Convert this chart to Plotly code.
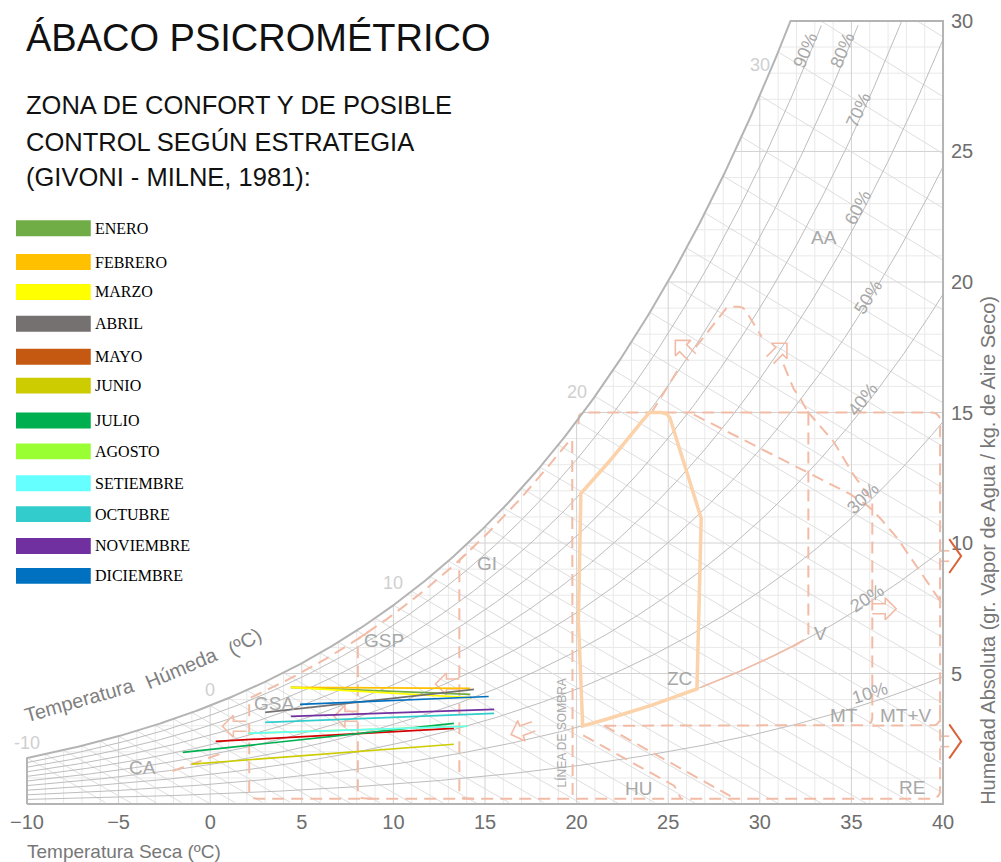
import numpy as np
import plotly.graph_objects as go

# ---------------- chart data ----------------
MONTHS = ["ENERO", "FEBRERO", "MARZO", "ABRIL", "MAYO", "JUNIO", "JULIO",
          "AGOSTO", "SETIEMBRE", "OCTUBRE", "NOVIEMBRE", "DICIEMBRE"]
LEGEND_COLORS = ["#70AD47", "#FFC000", "#FFFF00", "#767171", "#C65911", "#CCCC00",
                 "#00B050", "#99FF33", "#66FFFF", "#33CCCC", "#7030A0", "#0070C0"]
LINE_COLORS = ["#70AD47", "#FFC000", "#FFFF00", "#767171", "#D40000", "#CCCC00",
               "#00B050", "#99FF33", "#66FFFF", "#33CCCC", "#7030A0", "#0070C0"]
# monthly min / max temperature (ºC) and absolute humidity (g/kg) at each end
T_MIN = [4.4, 4.4, 4.4, 3.0, 0.3, -1.0, -1.5, 2.1, 2.1, 3.0, 4.4, 4.9]
W_AT_TMIN = [4.47, 4.47, 4.47, 3.51, 2.40, 1.53, 1.98, 2.71, 2.71, 3.13, 3.36, 3.82]
T_MAX = [14.2, 14.2, 14.2, 14.4, 13.3, 13.3, 13.3, 14.05, 14.05, 15.5, 15.5, 15.2]
W_AT_TMAX = [4.20, 4.43, 4.08, 4.39, 2.90, 2.29, 3.09, 2.98, 2.98, 3.47, 3.63, 4.12]

X_TICKS = [-10, -5, 0, 5, 10, 15, 20, 25, 30, 35, 40]
Y_TICKS = [5, 10, 15, 20, 25, 30]
RH_LEVELS = [10, 20, 30, 40, 50, 60, 70, 80, 90]
WB_LABELS = [-10, 0, 10, 20, 30]

ZONE_NAMES = ["CA", "GSA", "GSP", "GI", "ZC", "V", "MT", "MT+V", "HU", "RE", "AA"]
ZONE_LABEL_T = [-3.7, 3.5, 9.5, 15.1, 25.6, 33.3, 34.6, 38.0, 23.4, 38.3, 33.5]
ZONE_LABEL_W = [1.41, 3.85, 6.26, 9.20, 4.81, 6.53, 3.40, 3.40, 0.61, 0.65, 21.7]

# strategy-zone boundaries (ºC / g/kg)
GSA_T, GSP_T, GI_T, SOMBRA_T = 2.13, 8.06, 13.6, 19.76
ZC_LEFT_T, ZC_RIGHT_T, ZC_TOP_RIGHT_T, ZC_KINK_W = 20.1, 26.8, 25.0, 11.0
V_T, MT_T, RIGHT_T = 32.65, 36.14, 39.84
BASE_W, TOP_W, MT_W = 0.2, 15.0, 3.0
SAT_OFFSET = 0.35
CHEVRON_W = [9.5, 2.4]

# ---------------- geometry / psychrometrics ----------------
P_ATM = 101.325
SX, SY = 18.38, 26.2            # px per ºC, px per g/kg
X0, X1 = -10.49, 40.49
Y0, Y1 = -0.305, 30.305
ML, MR, MTOP, MB = 15, 49, 10, 50
FW, FH = 1001, 862


def psat(T):
    T = np.asarray(T, float)
    return 0.61094 * np.exp(17.625 * T / (T + 243.04))


def wsat(T):
    ps = psat(T)
    return 622.0 * ps / (P_ATM - ps)


def w_wetbulb(T, twb):
    Ws = wsat(twb) / 1000.0
    W = ((2501 - 2.326 * twb) * Ws - 1.006 * (T - twb)) / (2501 + 1.86 * T - 4.186 * twb)
    return W * 1000.0


TG = np.linspace(-10, 45, 5501)
WG = wsat(TG)


def tdew(w):
    return float(np.interp(w, WG, TG))


def px2paper(px, py):
    return (px - ML) / (FW - ML - MR), (FH - MB - py) / (FH - MB - MTOP)


def data2paper(T, w):
    return (T - X0) / (X1 - X0), (w - Y0) / (Y1 - Y0)


def fillet(T, W, r=7.0):
    P = np.column_stack([np.asarray(T, float) * SX, np.asarray(W, float) * SY])
    out = [P[0]]
    for i in range(1, len(P) - 1):
        a, b, c = P[i - 1], P[i], P[i + 1]
        v1, v2 = a - b, c - b
        l1, l2 = np.hypot(*v1), np.hypot(*v2)
        if l1 < 1e-9 or l2 < 1e-9:
            continue
        u1, u2 = v1 / l1, v2 / l2
        ang = np.arccos(np.clip(np.dot(u1, u2), -1, 1))
        if ang > np.radians(165) or ang < 1e-3:
            out.append(b)
            continue
        t = min(r / np.tan(ang / 2), 0.5 * l1, 0.5 * l2)
        rr = t * np.tan(ang / 2)
        p1, p2 = b + u1 * t, b + u2 * t
        bis = u1 + u2
        bis = bis / np.hypot(*bis)
        cen = b + bis * (rr / np.sin(ang / 2))
        a1 = np.arctan2(p1[1] - cen[1], p1[0] - cen[0])
        a2 = np.arctan2(p2[1] - cen[1], p2[0] - cen[0])
        da = (a2 - a1 + np.pi) % (2 * np.pi) - np.pi
        for s in np.linspace(0, 1, 9):
            out.append(cen + rr * np.array([np.cos(a1 + da * s), np.sin(a1 + da * s)]))
    out.append(P[-1])
    out = np.array(out)
    return list(out[:, 0] / SX), list(out[:, 1] / SY)


def block_arrow(T, w, ang_deg, L=24, hw=11, sw=5, hl=11):
    base = [(-L / 2, sw), (L / 2 - hl, sw), (L / 2 - hl, hw), (L / 2, 0),
            (L / 2 - hl, -hw), (L / 2 - hl, -sw), (-L / 2, -sw)]
    a = np.radians(ang_deg)
    xs, ys = [], []
    for u, v in base:
        px = u * np.cos(a) - v * np.sin(a)
        py = u * np.sin(a) + v * np.cos(a)
        xs.append(T + px / SX)
        ys.append(w + py / SY)
    return xs, ys


def add_path(store, T, W):
    store[0].extend(list(T) + [None])
    store[1].extend(list(W) + [None])


fig = go.Figure()


def line_trace(store, color, width, dash=None):
    fig.add_trace(go.Scatter(x=store[0], y=store[1], mode="lines",
                             line=dict(color=color, width=width, dash=dash),
                             hoverinfo="skip", showlegend=False))


# ---------------- grid (clipped under the saturation curve) ----------------
minor, major = ([], []), ([], [])
for k in range(-9, 40):
    top = min(float(wsat(k)), 30.0)
    add_path(major if k % 5 == 0 else minor, [k, k], [0, top])
for j in range(1, 30):
    add_path(major if j % 5 == 0 else minor, [max(-10.0, tdew(j)), 40], [j, j])
line_trace(minor, "#e9e9e9", 1)
line_trace(major, "#d2d2d2", 1)

# ---------------- wet-bulb lines ----------------
wb = ([], [])
for twb in range(-10, 35):
    T = np.linspace(twb, 40, 200)
    W = w_wetbulb(T, twb)
    m = (W >= 0) & (W <= 30)
    if m.sum() > 1:
        add_path(wb, T[m], W[m])
line_trace(wb, "#dadada", 0.9)

# ---------------- relative humidity curves ----------------
rhs = ([], [])
for rh in RH_LEVELS:
    T = np.linspace(-10, 40, 400)
    W = rh / 100 * wsat(T)
    m = W <= 30
    add_path(rhs, T[m], W[m])
line_trace(rhs, "#bdbdbd", 1)

# ---------------- strategy zones ----------------
dashed = ([], [])
solid = ([], [])


def sat_par(t0, t1, n=60):
    T = np.linspace(t0, t1, n)
    return list(T), list(wsat(T) - SAT_OFFSET)


# big outer path: top w=15, right edge, base line, GSA vertical, curve, sombra line
pt, pw = sat_par(GSA_T, SOMBRA_T)
T = [ZC_LEFT_T, ZC_LEFT_T, RIGHT_T, RIGHT_T, GSA_T] + pt + [SOMBRA_T, SOMBRA_T + 0.6]
W = [14.55, TOP_W, TOP_W, BASE_W, BASE_W] + pw + [BASE_W, BASE_W]
add_path(dashed, *fillet(T, W, 8))
for tv in (GSP_T, GI_T):
    pt, pw = sat_par(tv, tv + 0.8, 8)
    add_path(dashed, *fillet([tv + 0.8, tv] + pt, [BASE_W, BASE_W] + pw, 8))

# MT and MT+V
add_path(dashed, *fillet([21.5, MT_T, MT_T], [MT_W, MT_W, 11.6], 8))
add_path(dashed, *fillet([MT_T, RIGHT_T, RIGHT_T], [MT_W, MT_W, 3.8], 8))
# V zone right edge
add_path(dashed, *fillet([V_T - 0.8, V_T, V_T],
                         [0.2 * float(wsat(V_T - 0.8)), 0.2 * float(wsat(V_T)), 15.2], 8))
# long diagonal and steep line
add_path(dashed, [26.4, 34.94, 35.92, 36.57, 37.5, 39.84],
         [14.92, 11.87, 11.41, 10.95, 10.19, 7.79])
add_path(dashed, [32.6, 34.02, 35.1, 36.03], [15.04, 13.89, 12.63, 11.72])
# AA roof
add_path(dashed, [24.06, 25.5], [14.96, 16.6])
add_path(dashed, *fillet([26.5, 28.2, 29.1, 30.1], [17.5, 19.05, 19.05, 17.9], 8))
add_path(dashed, *fillet([31.3, 31.84, 32.22, 32.6], [16.83, 15.92, 15.53, 15.04], 8))
# HU
add_path(dashed, *fillet([20.36, 25.31, 25.7], [2.63, 0.73, BASE_W], 8))
add_path(dashed, [21.5, 28.4], [MT_W, BASE_W + 0.1])
# CA
add_path(dashed, [-2.06, 0.77], [1.26, 1.98])
line_trace(dashed, "#f2bba6", 2, "12px,7px")

# salmon 20% RH edge of the V zone
T = np.linspace(ZC_RIGHT_T, V_T - 0.5, 50)
add_path(solid, T, 0.2 * wsat(T))
for (ta, wa, an) in [(1.32, 2.98, 180), (7.41, 3.36, 180), (12.95, 4.6, 180),
                     (17.04, 2.82, 200), (36.79, 7.48, 0), (25.85, 17.44, 135),
                     (31.02, 17.33, 45)]:
    add_path(solid, *block_arrow(ta, wa, an))
for cw in CHEVRON_W:
    add_path(solid, [RIGHT_T, RIGHT_T + 0.5], [cw + 0.2, cw + 0.2])
    add_path(solid, [RIGHT_T, RIGHT_T + 0.5], [cw - 0.2, cw - 0.2])
line_trace(solid, "#f2bba6", 1.6)

# comfort zone ZC
T80 = tdew(TOP_W / 0.8)
t1 = np.linspace(ZC_LEFT_T, T80, 30)
t2 = np.linspace(ZC_RIGHT_T, ZC_LEFT_T, 30)
T = [ZC_LEFT_T, ZC_LEFT_T] + list(t1) + [ZC_TOP_RIGHT_T, ZC_RIGHT_T, ZC_RIGHT_T] + list(t2) + [ZC_LEFT_T, ZC_LEFT_T]
W = [7.0, 0.8 * float(wsat(ZC_LEFT_T))] + list(0.8 * wsat(t1)) + [TOP_W, ZC_KINK_W, float(0.2 * wsat(ZC_RIGHT_T))] + \
    list(0.2 * wsat(t2)) + [float(0.2 * wsat(ZC_LEFT_T)), 7.0]
zc = ([], [])
add_path(zc, *fillet(T, W, 9))
line_trace(zc, "#fbd2a9", 3.5)

# ---------------- frame + saturation curve ----------------
tsat30 = tdew(30)
ts = np.linspace(-10, tsat30, 300)
frame = ([-10] + list(ts) + [40, 40, -10], [0] + list(wsat(ts)) + [30, 0, 0])
line_trace(frame, "#b4b4b4", 2)

# ---------------- monthly lines ----------------
for i, name in enumerate(MONTHS):
    fig.add_trace(go.Scatter(x=[T_MIN[i], T_MAX[i]], y=[W_AT_TMIN[i], W_AT_TMAX[i]],
                             mode="lines", name=name,
                             line=dict(color=LINE_COLORS[i], width=1.7),
                             showlegend=False, hovertemplate=name + "<extra></extra>"))

# ---------------- annotations ----------------
ann = []
shapes = []
SANS = "Liberation Sans"


def pa(px, py, text, size, color, xanchor="left", angle=0, family=SANS):
    x, y = px2paper(px, py)
    ann.append(dict(x=x, y=y, xref="paper", yref="paper", text=text, showarrow=False,
                    xanchor=xanchor, yanchor="middle", textangle=angle,
                    font=dict(family=family, size=size, color=color)))


def da(T, w, text, size, color, angle=0):
    ann.append(dict(x=T, y=w, xref="x", yref="y", text=text, showarrow=False,
                    xanchor="center", yanchor="middle", textangle=angle,
                    font=dict(family=SANS, size=size, color=color)))


pa(21, 35, "ÁBACO PSICROMÉTRICO", 38, "#111111")
pa(21, 102, "ZONA DE CONFORT Y DE POSIBLE", 25.5, "#111111")
pa(21, 139, "CONTROL SEGÚN ESTRATEGIA", 25.5, "#111111")
pa(21, 175, "(GIVONI - MILNE, 1981):", 25.5, "#111111")

# legend
LEG_Y = [226, 260, 290, 322, 355, 384, 419, 450, 482, 513, 545, 575]
for i, name in enumerate(MONTHS):
    x0, y0 = px2paper(13, LEG_Y[i] + 8)
    x1, y1 = px2paper(88, LEG_Y[i] - 8)
    shapes.append(dict(type="rect", xref="paper", yref="paper", x0=x0, x1=x1, y0=y0, y1=y1,
                       fillcolor=LEGEND_COLORS[i], line=dict(width=0)))
    pa(90, LEG_Y[i], name, 16, "#000000", family="Liberation Serif")

# axis titles
pa(22, 852, "Temperatura Seca (ºC)", 19, "#777777")
pa(988, 549, "Humedad Absoluta (gr. Vapor de Agua / kg. de Aire Seco)", 20, "#777777",
   xanchor="center", angle=-90)
pa(77, 700, "Temperatura", 20, "#808080", xanchor="center", angle=-16)
pa(179, 667, "Húmeda", 20, "#808080", xanchor="center", angle=-23)
pa(242, 641, "(ºC)", 20, "#808080", xanchor="center", angle=-31)

# zone labels
for n, t, w in zip(ZONE_NAMES, ZONE_LABEL_T, ZONE_LABEL_W):
    da(t, w, n, 19, "#a8a8a8")
da(19.16, 2.71, "LÍNEA DE SOMBRA", 12, "#a8a8a8", angle=-90)

# wet-bulb labels
for v, ys in zip(WB_LABELS, [3, 4, 10, 17, 19]):
    ann.append(dict(x=v, y=float(wsat(v)), xref="x", yref="y", text=str(v), showarrow=False,
                    xanchor="center", yanchor="bottom", yshift=ys,
                    font=dict(family=SANS, size=18, color="#cfcfcf")))

# RH labels (placed just above their curve, rotated along it)
RH_LABEL_T = [36.03, 35.87, 35.65, 35.65, 35.92, 35.38, 35.38, 34.51, 32.49]
RH_LABEL_W = [4.24, 7.90, 11.72, 15.50, 19.43, 22.86, 26.60, 28.89, 28.89]
for rh, t, w in zip(RH_LEVELS, RH_LABEL_T, RH_LABEL_W):
    tc = min(t, tdew(w / (rh / 100)))
    slope = rh / 100 * float(wsat(tc + 0.05) - wsat(tc - 0.05)) / 0.1
    angle = -np.degrees(np.arctan(slope * SY / SX))
    ann.append(dict(x=t, y=w, xref="x", yref="y", text=f"{rh}%", showarrow=False,
                    xanchor="center", yanchor="middle", textangle=angle,
                    font=dict(family=SANS, size=18, color="#a8a8a8")))

# right-edge chevrons
for cy in CHEVRON_W:
    xa, ya = data2paper(RIGHT_T + 0.5, cy + 0.65)
    xb, yb = data2paper(RIGHT_T + 1.15, cy)
    xc, yc = data2paper(RIGHT_T + 0.5, cy - 0.65)
    shapes.append(dict(type="path", xref="paper", yref="paper",
                       path=f"M {xa} {ya} L {xb} {yb} L {xc} {yc}",
                       line=dict(color="#d9623b", width=2)))

fig.update_layout(
    width=FW, height=FH,
    margin=dict(l=ML, r=MR, t=MTOP, b=MB, pad=0),
    paper_bgcolor="white", plot_bgcolor="white",
    showlegend=False,
    xaxis=dict(range=[X0, X1], showgrid=False, zeroline=False, showline=False,
               tickmode="array", tickvals=X_TICKS, ticks="",
               tickfont=dict(family=SANS, size=20, color="#6e6e6e"),
               ticklabelstandoff=-4, fixedrange=True),
    yaxis=dict(range=[Y0, Y1], side="right", showgrid=False, zeroline=False, showline=False,
               tickmode="array", tickvals=Y_TICKS, ticks="",
               tickfont=dict(family=SANS, size=20, color="#6e6e6e"),
               ticklabelstandoff=-2, fixedrange=True),
    annotations=ann, shapes=shapes,
)

fig.write_html("out.html", config={"displayModeBar": False},
               post_script="document.body.style.margin='0px';")
